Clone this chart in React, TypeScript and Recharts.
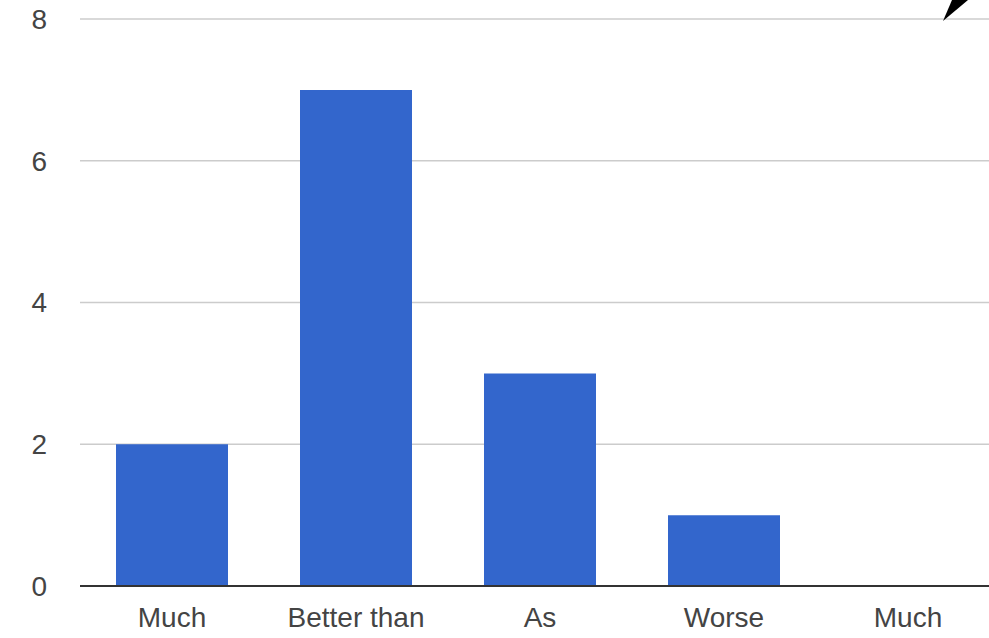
import { BarChart, Bar, XAxis, YAxis, CartesianGrid } from "recharts";

const categories = ["Much", "Better than", "As", "Worse", "Much"];
const counts = [2, 7, 3, 1, 0];
const yTicks = [0, 2, 4, 6, 8];

const data = categories.map((label, i) => ({ label, count: counts[i] }));

const font = "'Liberation Sans', Arial, sans-serif";

export default function App() {
  return (
    <div
      style={{
        position: "absolute",
        left: 0,
        top: 0,
        width: 989,
        height: 638,
        overflow: "hidden",
        background: "#fff",
      }}
    >
      <BarChart
        width={1010}
        height={638}
        data={data}
        margin={{ top: 19, right: 10, left: 0, bottom: 0 }}
        barSize={112}
      >
        <CartesianGrid vertical={false} stroke="#cccccc" strokeWidth={1.5} />
        <XAxis
          dataKey="label"
          height={52}
          tickLine={false}
          tickSize={0}
          tickMargin={21}
          axisLine={{ stroke: "#333333", strokeWidth: 2 }}
          tick={{ fill: "#444444", fontSize: 28, fontFamily: font }}
          interval={0}
        />
        <YAxis
          width={80}
          domain={[0, 8]}
          ticks={yTicks}
          axisLine={false}
          tickLine={false}
          tickSize={0}
          tickMargin={33}
          tick={{ fill: "#444444", fontSize: 28, fontFamily: font }}
        />
        <Bar dataKey="count" fill="#3366cc" isAnimationActive={false} />
      </BarChart>
      <svg
        width={989}
        height={638}
        style={{ position: "absolute", left: 0, top: 0, pointerEvents: "none" }}
      >
        <polygon points="943,21 952,0 968,0" fill="#000" />
      </svg>
    </div>
  );
}
